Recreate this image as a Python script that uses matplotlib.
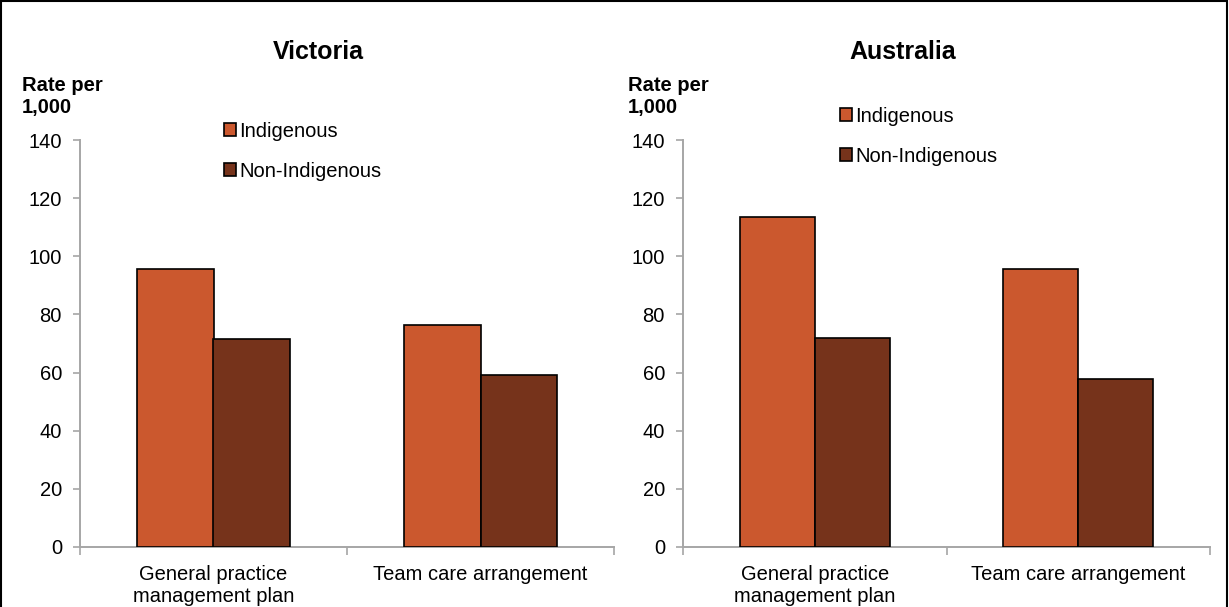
import matplotlib
matplotlib.use("Agg")
import matplotlib.pyplot as plt
from matplotlib.patches import Rectangle, Patch
import numpy as np

plt.rcParams['font.family'] = ['Liberation Sans', 'DejaVu Sans']

categories = ["General practice\nmanagement plan", "Team care arrangement"]
series = ["Indigenous", "Non-Indigenous"]
victoria_indigenous = [95.5, 76.3]
victoria_non_indigenous = [71.5, 59.2]
australia_indigenous = [113.5, 95.6]
australia_non_indigenous = [71.9, 57.9]
yticks = [0, 20, 40, 60, 80, 100, 120, 140]
panel_titles = ["Victoria", "Australia"]

colors = ["#CB582E", "#76331B"]
grey = "#A6A6A6"
FS = 14.5

fig = plt.figure(figsize=(12.29, 6.07), dpi=100)
W, H = 1229, 607

def px_axes(x0, x1, y_top, y_bot):
    return [x0 / W, 1 - y_bot / H, (x1 - x0) / W, (y_bot - y_top) / H]

panels = [
    (px_axes(80, 614, 140, 547), victoria_indigenous, victoria_non_indigenous,
     panel_titles[0], 318, 22, (0.27, 1.045)),
    (px_axes(683, 1210, 140, 547), australia_indigenous, australia_non_indigenous,
     panel_titles[1], 903, 628, (0.298, 1.082)),
]

bw = 0.285
for rect, ind, non, title, tx, rx, leg_anchor in panels:
    ax = fig.add_axes(rect)
    x = np.arange(len(categories)) + 0.5
    ax.bar(x - bw / 2, ind, bw, color=colors[0], edgecolor="black", linewidth=1.2, zorder=3)
    ax.bar(x + bw / 2, non, bw, color=colors[1], edgecolor="black", linewidth=1.2, zorder=3)
    ax.set_xlim(0, 2)
    ax.set_ylim(0, 140)
    ax.set_yticks(yticks)
    ax.set_yticklabels([str(v) for v in yticks], fontsize=FS)
    ax.set_xticks([0, 1, 2])
    ax.set_xticklabels([])
    ax.set_xticks(x, minor=True)
    ax.set_xticklabels(categories, minor=True, fontsize=FS, linespacing=1.2)
    ax.tick_params(axis="x", which="minor", length=0, pad=13)
    ax.tick_params(axis="x", which="major", length=6, color=grey, width=1.2)
    ax.tick_params(axis="y", length=5, color=grey, width=1.2, pad=8)
    for s in ["top", "right"]:
        ax.spines[s].set_visible(False)
    for s in ["left", "bottom"]:
        ax.spines[s].set_color(grey)
        ax.spines[s].set_linewidth(1.4)
    handles = [Patch(facecolor=colors[0], edgecolor="black", linewidth=1.2),
               Patch(facecolor=colors[1], edgecolor="black", linewidth=1.2)]
    ax.legend(handles, series, loc="upper left", bbox_to_anchor=leg_anchor,
              frameon=False, fontsize=FS, handlelength=0.6, handleheight=0.6,
              handletextpad=0.15, labelspacing=1.05, borderaxespad=0, borderpad=0)
    fig.text(tx / W, 1 - 52 / H, title, ha="center", va="center",
             fontsize=18, fontweight="bold")
    fig.text(rx / W, 1 - 76 / H, "Rate per\n1,000", ha="left", va="top",
             fontsize=FS, fontweight="bold", linespacing=1.2)

fig.patches.append(Rectangle((1 / W, -0.05), (W - 3) / W, 1 - 1 / H + 0.05 - 0.0008,
                             transform=fig.transFigure, fill=False,
                             edgecolor="black", linewidth=1.5))

fig.savefig("out.png", dpi=100)
